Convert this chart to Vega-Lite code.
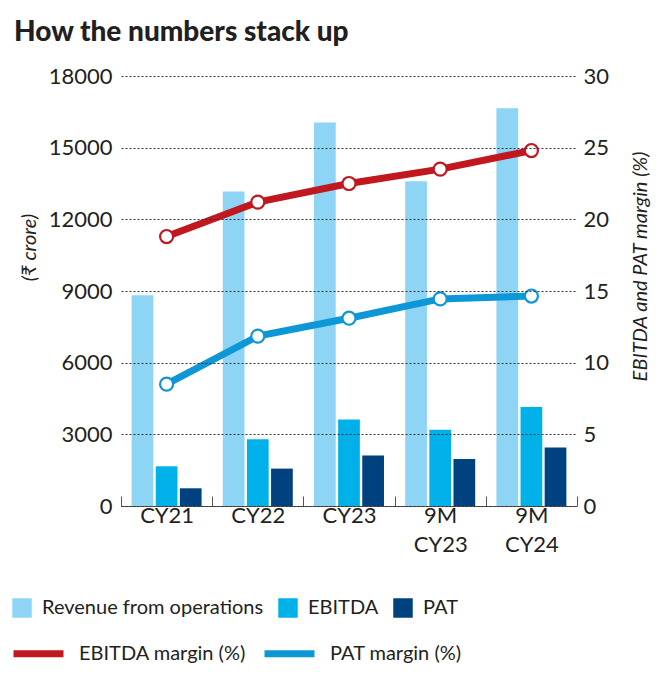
{
  "$schema": "https://vega.github.io/schema/vega-lite/v6.json",
  "width": 456,
  "height": 430,
  "autosize": {"type": "none"},
  "padding": {"left": 121, "top": 76, "right": 83, "bottom": 168},
  "background": "white",
  "title": {
    "text": "How the numbers stack up",
    "anchor": "start",
    "frame": "group",
    "font": "Lato",
    "fontSize": 28,
    "fontWeight": 900,
    "color": "#231f20",
    "dx": -107,
    "dy": 41,
    "offset": 37,
    "baseline": "alphabetic"
  },
  "config": {
    "view": {"stroke": null},
    "font": "Lato",
    "axis": {
      "labelFont": "Lato",
      "titleFont": "Lato",
      "labelFontSize": 22,
      "labelColor": "#231f20",
      "titleColor": "#231f20",
      "titleFontWeight": "normal"
    },
    "legend": {
      "labelFont": "Lato",
      "labelFontSize": 20,
      "labelColor": "#231f20",
      "labelLimit": 400
    }
  },
  "datasets": {
    "bars": [
      {"cat": "CY21", "series": "Revenue from operations", "value": 8820},
      {"cat": "CY21", "series": "EBITDA", "value": 1662},
      {"cat": "CY21", "series": "PAT", "value": 741},
      {"cat": "CY22", "series": "Revenue from operations", "value": 13170},
      {"cat": "CY22", "series": "EBITDA", "value": 2792},
      {"cat": "CY22", "series": "PAT", "value": 1565},
      {"cat": "CY23", "series": "Revenue from operations", "value": 16050},
      {"cat": "CY23", "series": "EBITDA", "value": 3616},
      {"cat": "CY23", "series": "PAT", "value": 2110},
      {"cat": "9M CY23", "series": "Revenue from operations", "value": 13590},
      {"cat": "9M CY23", "series": "EBITDA", "value": 3197},
      {"cat": "9M CY23", "series": "PAT", "value": 1967},
      {"cat": "9M CY24", "series": "Revenue from operations", "value": 16647},
      {"cat": "9M CY24", "series": "EBITDA", "value": 4144},
      {"cat": "9M CY24", "series": "PAT", "value": 2445}
    ],
    "lines": [
      {"cat": "CY21", "series": "EBITDA margin (%)", "margin": 18.8},
      {"cat": "CY22", "series": "EBITDA margin (%)", "margin": 21.2},
      {"cat": "CY23", "series": "EBITDA margin (%)", "margin": 22.5},
      {"cat": "9M CY23", "series": "EBITDA margin (%)", "margin": 23.5},
      {"cat": "9M CY24", "series": "EBITDA margin (%)", "margin": 24.8},
      {"cat": "CY21", "series": "PAT margin (%)", "margin": 8.5},
      {"cat": "CY22", "series": "PAT margin (%)", "margin": 11.85},
      {"cat": "CY23", "series": "PAT margin (%)", "margin": 13.1},
      {"cat": "9M CY23", "series": "PAT margin (%)", "margin": 14.45},
      {"cat": "9M CY24", "series": "PAT margin (%)", "margin": 14.65}
    ]
  },
  "layer": [
    {
      "data": {"name": "bars"},
      "mark": {"type": "bar"},
      "encoding": {
        "x": {
          "field": "cat",
          "type": "nominal",
          "sort": ["CY21", "CY22", "CY23", "9M CY23", "9M CY24"],
          "scale": {"paddingInner": 0, "paddingOuter": 0},
          "axis": {
            "title": null,
            "tickBand": "extent",
            "tickSize": -10,
            "tickColor": "#555555",
            "domainColor": "#555555",
            "labelAngle": 0,
            "labelExpr": "split(datum.label, ' ')",
            "labelLineHeight": 29,
            "labelPadding": 9,
            "grid": false
          }
        },
        "xOffset": {
          "field": "series",
          "sort": ["Revenue from operations", "EBITDA", "PAT"],
          "scale": {"paddingInner": 0.1, "paddingOuter": 0.44}
        },
        "y": {
          "field": "value",
          "type": "quantitative",
          "scale": {"domain": [0, 18000]},
          "axis": {
            "values": [0, 3000, 6000, 9000, 12000, 15000, 18000],
            "format": "d",
            "grid": true,
            "gridDash": [2, 2],
            "gridColor": "#333333",
            "gridWidth": 1,
            "domain": false,
            "ticks": false,
            "labelPadding": 9,
            "zindex": 1,
            "title": "(₹ crore)",
            "titleFontStyle": "italic",
            "titleFontSize": 20,
            "titleY": 171,
            "titlePadding": 9
          }
        },
        "color": {
          "field": "series",
          "type": "nominal",
          "scale": {
            "domain": ["Revenue from operations", "EBITDA", "PAT"],
            "range": ["#8ed5f5", "#00b1e9", "#00417f"]
          },
          "legend": {
            "orient": "none",
            "legendX": -109,
            "legendY": 522,
            "direction": "horizontal",
            "title": null,
            "symbolType": "square",
            "symbolSize": 380,
            "symbolStrokeWidth": 0,
            "symbolOpacity": 1,
            "labelOffset": 10,
            "columnPadding": 14
          }
        }
      }
    },
    {
      "data": {"name": "lines"},
      "mark": {"type": "line", "strokeWidth": 7},
      "encoding": {
        "x": {"field": "cat", "type": "nominal", "sort": ["CY21", "CY22", "CY23", "9M CY23", "9M CY24"]},
        "y": {
          "field": "margin",
          "type": "quantitative",
          "scale": {"domain": [0, 30]},
          "axis": {
            "orient": "right",
            "values": [0, 5, 10, 15, 20, 25, 30],
            "grid": false,
            "domain": false,
            "ticks": false,
            "labelPadding": 6,
            "title": "EBITDA and PAT margin (%)",
            "titleFontStyle": "italic",
            "titleFontSize": 20,
            "titleAngle": 270,
            "titleY": 190,
            "titlePadding": 42
          }
        },
        "stroke": {
          "field": "series",
          "type": "nominal",
          "scale": {
            "domain": ["EBITDA margin (%)", "PAT margin (%)"],
            "range": ["#c1181f", "#0e97d6"]
          },
          "legend": {
            "orient": "none",
            "legendX": -111,
            "legendY": 549,
            "direction": "horizontal",
            "title": null,
            "symbolType": "stroke",
            "symbolSize": 2500,
            "symbolStrokeWidth": 7,
            "labelOffset": 12,
            "columnPadding": 4
          }
        }
      }
    },
    {
      "data": {"name": "lines"},
      "mark": {"type": "point", "shape": "circle", "fill": "white", "fillOpacity": 1, "opacity": 1, "strokeWidth": 2.2, "size": 170},
      "encoding": {
        "x": {"field": "cat", "type": "nominal", "sort": ["CY21", "CY22", "CY23", "9M CY23", "9M CY24"]},
        "y": {"field": "margin", "type": "quantitative", "scale": {"domain": [0, 30]}, "axis": null},
        "stroke": {"field": "series", "type": "nominal"}
      }
    }
  ],
  "resolve": {"scale": {"y": "independent"}}
}
